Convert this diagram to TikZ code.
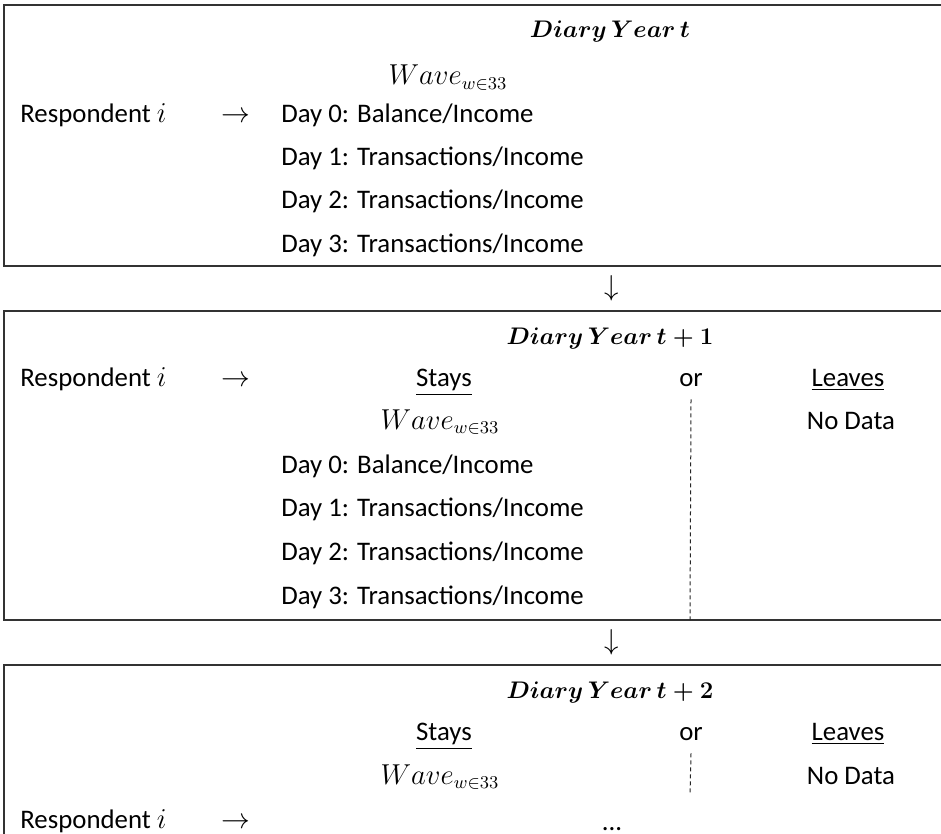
\documentclass[tikz,border=0pt]{standalone}
\usepackage{amsmath,amssymb}
\usepackage{fontspec}
\setmainfont{Carlito}
\usetikzlibrary{positioning}
\tikzset{
   panel/.style={draw=black!80, line width=1pt},
   txt/.style={inner sep=0pt, text height=9.5pt, text depth=2.5pt, font=\fontsize{13.4}{16}\selectfont},
   daytxt/.style={txt, anchor=west},
   yeartxt/.style={txt, font=\fontsize{13}{15}\selectfont},
   split/.style={draw=black!85, line width=0.5pt, dash pattern=on 2pt off 1.5pt}
}
\newcommand{\wavelbl}{$Wave_{w\in 33}$}
\newcommand{\yearlbl}[1]{$\boldsymbol{Diary\,Year\,t#1}$}

\begin{document}
\begin{tikzpicture}[x=0.5pt,y=-0.5pt]
  \useasboundingbox (0,0) rectangle (941,834);
  % three panels, cut at the right (and bottom) edge
  \draw[panel] (4,5) rectangle (960,266);
  \draw[panel] (4,311) rectangle (960,620);
  \draw[panel] (4,665) rectangle (960,860);

  % year t
  \node[yeartxt] (y1) at (610,31) {\yearlbl{}};
  \node[txt] (w1) at (448,78) {\wavelbl};
  \node[txt,anchor=west] (r1) at (20,116) {Respondent $i$};
  \node[txt] (a1) at (236,116) {$\rightarrow$};
  \node[daytxt] (d10) at (281,116) {Day 0: Balance/Income};
  \node[daytxt] (d11) at (281,159) {Day 1: Transactions/Income};
  \node[daytxt] (d12) at (281,202) {Day 2: Transactions/Income};
  \node[daytxt] (d13) at (281,245) {Day 3: Transactions/Income};

  \node[txt] (down1) at (612,288) {$\downarrow$};

  % year t+1
  \node[yeartxt] (y2) at (610,337) {\yearlbl{+1}};
  \node[txt,anchor=west] (r2) at (20,379) {Respondent $i$};
  \node[txt] (a2) at (236,379) {$\rightarrow$};
  \node[txt] (s2) at (444,379) {\underline{Stays}};
  \node[txt] (or2) at (691,379) {or};
  \node[txt] (l2) at (848,379) {\underline{Leaves}};
  \node[txt] (w2) at (440,422) {\wavelbl};
  \node[txt] (n2) at (851,422) {No Data};
  \node[daytxt] (d20) at (281,466) {Day 0: Balance/Income};
  \node[daytxt] (d21) at (281,509) {Day 1: Transactions/Income};
  \node[daytxt] (d22) at (281,553) {Day 2: Transactions/Income};
  \node[daytxt] (d23) at (281,597) {Day 3: Transactions/Income};
  \coordinate (e2) at (690,620);
  \draw[split] ([yshift=-4pt]or2.south) -- (e2);

  \node[txt] (down2) at (612,642) {$\downarrow$};

  % year t+2
  \node[yeartxt] (y3) at (610,691) {\yearlbl{+2}};
  \node[txt] (s3) at (444,733) {\underline{Stays}};
  \node[txt] (or3) at (691,733) {or};
  \node[txt] (l3) at (848,733) {\underline{Leaves}};
  \node[txt] (w3) at (440,777) {\wavelbl};
  \node[txt] (n3) at (851,777) {No Data};
  \node[txt,anchor=west] (r3) at (20,821) {Respondent $i$};
  \node[txt] (a3) at (236,821) {$\rightarrow$};
  \node[txt] (dots3) at (612,823) {...};
  \coordinate (e3) at (690,795);
  \draw[split] ([yshift=-4pt]or3.south) -- (e3);
\end{tikzpicture}
\end{document}
